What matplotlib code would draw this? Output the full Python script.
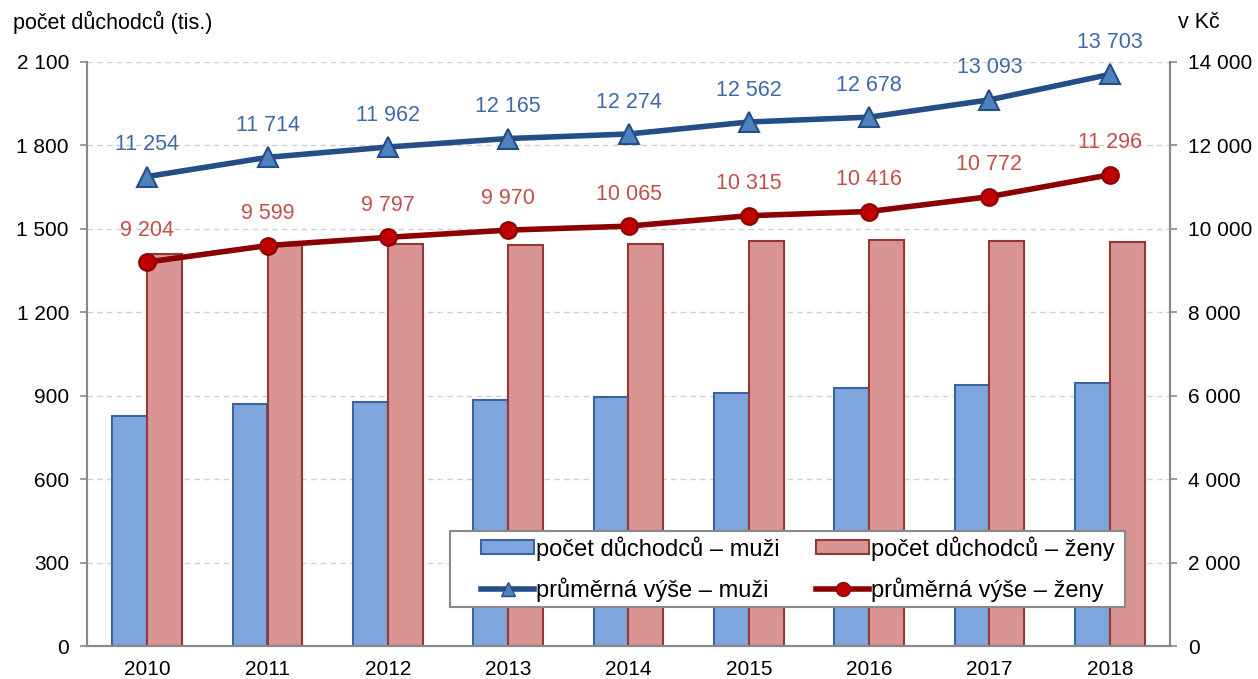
import matplotlib.pyplot as plt
from matplotlib.lines import Line2D
import numpy as np

plt.rcParams['font.family'] = ['Liberation Sans', 'DejaVu Sans']

years = ['2010', '2011', '2012', '2013', '2014', '2015', '2016', '2017', '2018']
pocet_muzi = [828, 870, 878, 885, 896, 910, 927, 940, 947]
pocet_zeny = [1409, 1442, 1447, 1442, 1447, 1456, 1460, 1456, 1454]
vyse_muzi = [11254, 11714, 11962, 12165, 12274, 12562, 12678, 13093, 13703]
vyse_zeny = [9204, 9599, 9797, 9970, 10065, 10315, 10416, 10772, 11296]


def fmt(v):
    return f"{v:,}".replace(",", " ")


fs = 15
W, H = 1258, 679
fig = plt.figure(figsize=(W / 100, H / 100), dpi=100)
ax = fig.add_axes([87 / W, 33 / H, 1083 / W, 584 / H])
ax2 = ax.twinx()

x = np.arange(len(years))
w = 0.29
ax.bar(x - w / 2, pocet_muzi, w, color='#7EA6DC', edgecolor='#3A64A0', linewidth=1.5, zorder=2)
ax.bar(x + w / 2, pocet_zeny, w, color='#D99594', edgecolor='#953735', linewidth=1.5, zorder=2)

ax2.plot(x, vyse_muzi, color='#254E86', lw=4, marker='^', ms=14,
         mfc='#4F81BD', mec='#254E86', mew=1.5, zorder=3)
ax2.plot(x, vyse_zeny, color='#8B0000', lw=4, marker='o', ms=12,
         mfc='#C00000', mec='#8B0000', mew=1.5, zorder=3)

for i in range(len(years)):
    ax2.annotate(fmt(vyse_muzi[i]), (x[i], vyse_muzi[i]), xytext=(0, 23),
                 textcoords='offset points', ha='center', va='center',
                 color='#3E6AA6', fontsize=15.5)
    ax2.annotate(fmt(vyse_zeny[i]), (x[i], vyse_zeny[i]), xytext=(0, 23),
                 textcoords='offset points', ha='center', va='center',
                 color='#C0504D', fontsize=15.5)

ax.set_xlim(-0.5, len(years) - 0.5)
ax.set_ylim(0, 2100)
ax2.set_ylim(0, 14000)
ax.set_yticks(range(0, 2101, 300))
ax.set_yticklabels([fmt(v) for v in range(0, 2101, 300)])
ax2.set_yticks(range(0, 14001, 2000))
ax2.set_yticklabels([fmt(v) for v in range(0, 14001, 2000)])
ax.set_xticks(x)
ax.set_xticklabels(years)

ax.grid(axis='y', color='#D0D0D0', linestyle=(0, (4, 3)), lw=1, zorder=0)
ax.set_axisbelow(True)
ax.set_zorder(ax2.get_zorder() - 1)
ax.patch.set_visible(False)

for a in (ax, ax2):
    a.spines['top'].set_visible(False)
    for s in ('left', 'right', 'bottom'):
        a.spines[s].set_color('#898989')
        a.spines[s].set_linewidth(1.5)
    a.tick_params(axis='y', length=5, width=1.2, color='#898989', labelsize=fs, pad=8)
ax.tick_params(axis='x', length=0, labelsize=fs, pad=10)

fig.text(13 / W, 1 - 22 / H, 'počet důchodců (tis.)', fontsize=15.5, va='center')
fig.text(1178 / W, 1 - 22 / H, 'v Kč', fontsize=15.5, va='center')

# legend frame drawn separately (Excel-like asymmetric padding)
frame = plt.Rectangle((450 / W, 1 - 607 / H), 675 / W, 76 / H, transform=fig.transFigure,
                      fc='white', ec='#898989', lw=1.5, zorder=4)
ax2.add_patch(frame)

handles = [
    plt.Rectangle((0, 0), 1, 1, fc='#7EA6DC', ec='#3A64A0', lw=1.5),
    Line2D([], [], color='#254E86', lw=4, marker='^', ms=10, mfc='#4F81BD', mec='#254E86'),
    plt.Rectangle((0, 0), 1, 1, fc='#D99594', ec='#953735', lw=1.5),
    Line2D([], [], color='#8B0000', lw=4, marker='o', ms=10, mfc='#C00000', mec='#8B0000'),
]
labels = ['počet důchodců – muži', 'průměrná výše – muži',
          'počet důchodců – ženy', 'průměrná výše – ženy']
leg = ax2.legend(handles, labels, ncol=2, loc='center left',
                 bbox_to_anchor=(481 / W, 1 - 569 / H),
                 bbox_transform=fig.transFigure,
                 fontsize=17, frameon=False, handlelength=2.25, handleheight=0.55,
                 handletextpad=0.08, columnspacing=1.55,
                 labelspacing=0.7, borderaxespad=0, borderpad=0)
leg.set_zorder(5)

fig.savefig('out.png', dpi=100)
